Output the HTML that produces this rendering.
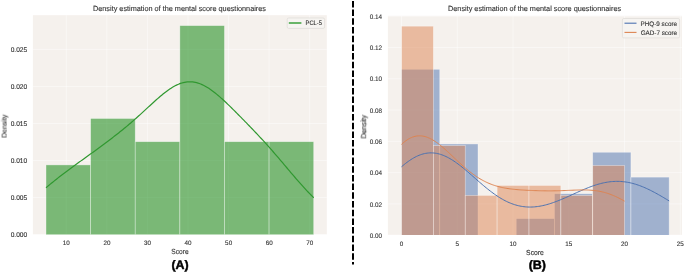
<!DOCTYPE html>
<html><head><meta charset="utf-8"><style>
html,body{margin:0;padding:0;background:#fff;}
svg{display:block;font-family:"Liberation Sans", sans-serif;}
text{will-change:transform;text-rendering:geometricPrecision;}
</style></head><body>
<svg width="685" height="273" viewBox="0 0 685 273">
<defs><clipPath id="cl"><rect x="32.9" y="15.2" width="293.90" height="219.30"/></clipPath><clipPath id="cr"><rect x="387.9" y="15.8" width="294.10" height="219.10"/></clipPath></defs><rect x="32.9" y="15.2" width="293.90" height="219.30" fill="#f5f1ed"/>
<line x1="66.27" y1="15.2" x2="66.27" y2="234.5" stroke="#fff" stroke-opacity="0.45" stroke-width="1"/>
<line x1="106.83" y1="15.2" x2="106.83" y2="234.5" stroke="#fff" stroke-opacity="0.45" stroke-width="1"/>
<line x1="147.40" y1="15.2" x2="147.40" y2="234.5" stroke="#fff" stroke-opacity="0.45" stroke-width="1"/>
<line x1="187.96" y1="15.2" x2="187.96" y2="234.5" stroke="#fff" stroke-opacity="0.45" stroke-width="1"/>
<line x1="228.53" y1="15.2" x2="228.53" y2="234.5" stroke="#fff" stroke-opacity="0.45" stroke-width="1"/>
<line x1="269.09" y1="15.2" x2="269.09" y2="234.5" stroke="#fff" stroke-opacity="0.45" stroke-width="1"/>
<line x1="309.66" y1="15.2" x2="309.66" y2="234.5" stroke="#fff" stroke-opacity="0.45" stroke-width="1"/>
<line x1="32.9" y1="234.55" x2="326.8" y2="234.55" stroke="#fff" stroke-opacity="0.45" stroke-width="1"/>
<line x1="32.9" y1="197.52" x2="326.8" y2="197.52" stroke="#fff" stroke-opacity="0.45" stroke-width="1"/>
<line x1="32.9" y1="160.49" x2="326.8" y2="160.49" stroke="#fff" stroke-opacity="0.45" stroke-width="1"/>
<line x1="32.9" y1="123.46" x2="326.8" y2="123.46" stroke="#fff" stroke-opacity="0.45" stroke-width="1"/>
<line x1="32.9" y1="86.43" x2="326.8" y2="86.43" stroke="#fff" stroke-opacity="0.45" stroke-width="1"/>
<line x1="32.9" y1="49.39" x2="326.8" y2="49.39" stroke="#fff" stroke-opacity="0.45" stroke-width="1"/>
<g clip-path="url(#cl)">
<rect x="45.99" y="164.90" width="44.62" height="71.10" fill="green" fill-opacity="0.5" stroke="#fff" stroke-opacity="0.5" stroke-width="0.7"/>
<rect x="90.61" y="118.47" width="44.62" height="117.53" fill="green" fill-opacity="0.5" stroke="#fff" stroke-opacity="0.5" stroke-width="0.7"/>
<rect x="135.23" y="141.68" width="44.62" height="94.32" fill="green" fill-opacity="0.5" stroke="#fff" stroke-opacity="0.5" stroke-width="0.7"/>
<rect x="179.85" y="25.60" width="44.62" height="210.40" fill="green" fill-opacity="0.5" stroke="#fff" stroke-opacity="0.5" stroke-width="0.7"/>
<rect x="224.47" y="141.68" width="44.62" height="94.32" fill="green" fill-opacity="0.5" stroke="#fff" stroke-opacity="0.5" stroke-width="0.7"/>
<rect x="269.09" y="141.68" width="44.62" height="94.32" fill="green" fill-opacity="0.5" stroke="#fff" stroke-opacity="0.5" stroke-width="0.7"/>
<polyline points="45.99,187.73 47.33,186.61 48.68,185.49 50.02,184.38 51.37,183.28 52.71,182.19 54.06,181.10 55.40,180.02 56.75,178.96 58.09,177.90 59.44,176.84 60.79,175.80 62.13,174.76 63.48,173.73 64.82,172.71 66.17,171.70 67.51,170.69 68.86,169.69 70.20,168.69 71.55,167.70 72.89,166.72 74.24,165.74 75.58,164.76 76.93,163.78 78.28,162.81 79.62,161.84 80.97,160.87 82.31,159.90 83.66,158.93 85.00,157.97 86.35,157.00 87.69,156.03 89.04,155.06 90.38,154.09 91.73,153.12 93.07,152.15 94.42,151.17 95.76,150.19 97.11,149.21 98.46,148.23 99.80,147.24 101.15,146.25 102.49,145.25 103.84,144.26 105.18,143.25 106.53,142.24 107.87,141.23 109.22,140.21 110.56,139.19 111.91,138.16 113.25,137.13 114.60,136.08 115.95,135.03 117.29,133.98 118.64,132.91 119.98,131.84 121.33,130.76 122.67,129.67 124.02,128.57 125.36,127.46 126.71,126.34 128.05,125.21 129.40,124.07 130.74,122.92 132.09,121.76 133.43,120.59 134.78,119.41 136.13,118.22 137.47,117.02 138.82,115.81 140.16,114.59 141.51,113.37 142.85,112.14 144.20,110.90 145.54,109.66 146.89,108.42 148.23,107.18 149.58,105.94 150.92,104.70 152.27,103.46 153.62,102.24 154.96,101.02 156.31,99.81 157.65,98.62 159.00,97.45 160.34,96.30 161.69,95.17 163.03,94.06 164.38,92.99 165.72,91.95 167.07,90.94 168.41,89.97 169.76,89.04 171.11,88.16 172.45,87.32 173.80,86.53 175.14,85.80 176.49,85.12 177.83,84.49 179.18,83.93 180.52,83.43 181.87,82.99 183.21,82.62 184.56,82.32 185.90,82.08 187.25,81.91 188.59,81.81 189.94,81.78 191.29,81.82 192.63,81.93 193.98,82.11 195.32,82.36 196.67,82.67 198.01,83.06 199.36,83.50 200.70,84.02 202.05,84.59 203.39,85.22 204.74,85.92 206.08,86.66 207.43,87.47 208.78,88.32 210.12,89.22 211.47,90.16 212.81,91.15 214.16,92.18 215.50,93.25 216.85,94.35 218.19,95.48 219.54,96.64 220.88,97.83 222.23,99.04 223.57,100.27 224.92,101.53 226.27,102.80 227.61,104.08 228.96,105.38 230.30,106.69 231.65,108.01 232.99,109.34 234.34,110.68 235.68,112.02 237.03,113.37 238.37,114.73 239.72,116.09 241.06,117.45 242.41,118.82 243.75,120.19 245.10,121.56 246.45,122.94 247.79,124.33 249.14,125.71 250.48,127.11 251.83,128.51 253.17,129.91 254.52,131.32 255.86,132.74 257.21,134.17 258.55,135.60 259.90,137.05 261.24,138.50 262.59,139.96 263.94,141.43 265.28,142.91 266.63,144.40 267.97,145.90 269.32,147.41 270.66,148.93 272.01,150.46 273.35,152.00 274.70,153.54 276.04,155.10 277.39,156.66 278.73,158.23 280.08,159.81 281.42,161.39 282.77,162.98 284.12,164.57 285.46,166.16 286.81,167.75 288.15,169.34 289.50,170.93 290.84,172.52 292.19,174.10 293.53,175.68 294.88,177.25 296.22,178.81 297.57,180.36 298.91,181.90 300.26,183.42 301.61,184.94 302.95,186.44 304.30,187.92 305.64,189.38 306.99,190.83 308.33,192.26 309.68,193.66 311.02,195.04 312.37,196.41 313.71,197.74" fill="none" stroke="#309830" stroke-width="1.2" stroke-linejoin="round" stroke-linecap="butt"/>
</g>
<rect x="387.9" y="15.8" width="294.10" height="219.10" fill="#f5f1ed"/>
<line x1="401.53" y1="15.8" x2="401.53" y2="234.9" stroke="#fff" stroke-opacity="0.45" stroke-width="1"/>
<line x1="457.29" y1="15.8" x2="457.29" y2="234.9" stroke="#fff" stroke-opacity="0.45" stroke-width="1"/>
<line x1="513.05" y1="15.8" x2="513.05" y2="234.9" stroke="#fff" stroke-opacity="0.45" stroke-width="1"/>
<line x1="568.80" y1="15.8" x2="568.80" y2="234.9" stroke="#fff" stroke-opacity="0.45" stroke-width="1"/>
<line x1="624.56" y1="15.8" x2="624.56" y2="234.9" stroke="#fff" stroke-opacity="0.45" stroke-width="1"/>
<line x1="680.32" y1="15.8" x2="680.32" y2="234.9" stroke="#fff" stroke-opacity="0.45" stroke-width="1"/>
<line x1="387.9" y1="235.20" x2="682.0" y2="235.20" stroke="#fff" stroke-opacity="0.45" stroke-width="1"/>
<line x1="387.9" y1="203.91" x2="682.0" y2="203.91" stroke="#fff" stroke-opacity="0.45" stroke-width="1"/>
<line x1="387.9" y1="172.63" x2="682.0" y2="172.63" stroke="#fff" stroke-opacity="0.45" stroke-width="1"/>
<line x1="387.9" y1="141.34" x2="682.0" y2="141.34" stroke="#fff" stroke-opacity="0.45" stroke-width="1"/>
<line x1="387.9" y1="110.06" x2="682.0" y2="110.06" stroke="#fff" stroke-opacity="0.45" stroke-width="1"/>
<line x1="387.9" y1="78.77" x2="682.0" y2="78.77" stroke="#fff" stroke-opacity="0.45" stroke-width="1"/>
<line x1="387.9" y1="47.48" x2="682.0" y2="47.48" stroke="#fff" stroke-opacity="0.45" stroke-width="1"/>
<line x1="387.9" y1="16.20" x2="682.0" y2="16.20" stroke="#fff" stroke-opacity="0.45" stroke-width="1"/>
<g clip-path="url(#cr)">
<rect x="401.53" y="69.29" width="38.23" height="167.11" fill="#4c72b0" fill-opacity="0.5" stroke="#fff" stroke-opacity="0.5" stroke-width="0.7"/>
<rect x="439.77" y="143.95" width="38.23" height="92.45" fill="#4c72b0" fill-opacity="0.5" stroke="#fff" stroke-opacity="0.5" stroke-width="0.7"/>
<rect x="516.23" y="218.61" width="38.23" height="17.79" fill="#4c72b0" fill-opacity="0.5" stroke="#fff" stroke-opacity="0.5" stroke-width="0.7"/>
<rect x="554.47" y="193.72" width="38.23" height="42.68" fill="#4c72b0" fill-opacity="0.5" stroke="#fff" stroke-opacity="0.5" stroke-width="0.7"/>
<rect x="592.70" y="152.24" width="38.23" height="84.16" fill="#4c72b0" fill-opacity="0.5" stroke="#fff" stroke-opacity="0.5" stroke-width="0.7"/>
<rect x="630.93" y="177.13" width="38.23" height="59.27" fill="#4c72b0" fill-opacity="0.5" stroke="#fff" stroke-opacity="0.5" stroke-width="0.7"/>
<rect x="401.53" y="26.15" width="31.86" height="210.25" fill="#dd8452" fill-opacity="0.5" stroke="#fff" stroke-opacity="0.5" stroke-width="0.7"/>
<rect x="433.39" y="145.61" width="31.86" height="90.79" fill="#dd8452" fill-opacity="0.5" stroke="#fff" stroke-opacity="0.5" stroke-width="0.7"/>
<rect x="465.25" y="195.38" width="31.86" height="41.02" fill="#dd8452" fill-opacity="0.5" stroke="#fff" stroke-opacity="0.5" stroke-width="0.7"/>
<rect x="497.12" y="185.43" width="31.86" height="50.97" fill="#dd8452" fill-opacity="0.5" stroke="#fff" stroke-opacity="0.5" stroke-width="0.7"/>
<rect x="528.98" y="185.43" width="31.86" height="50.97" fill="#dd8452" fill-opacity="0.5" stroke="#fff" stroke-opacity="0.5" stroke-width="0.7"/>
<rect x="560.84" y="195.38" width="31.86" height="41.02" fill="#dd8452" fill-opacity="0.5" stroke="#fff" stroke-opacity="0.5" stroke-width="0.7"/>
<rect x="592.70" y="165.52" width="31.86" height="70.88" fill="#dd8452" fill-opacity="0.5" stroke="#fff" stroke-opacity="0.5" stroke-width="0.7"/>
<polyline points="401.53,166.79 402.88,165.64 404.22,164.52 405.57,163.45 406.91,162.41 408.26,161.43 409.60,160.48 410.95,159.59 412.29,158.74 413.64,157.95 414.98,157.21 416.33,156.52 417.67,155.89 419.02,155.32 420.36,154.80 421.71,154.35 423.05,153.95 424.40,153.62 425.74,153.35 427.09,153.14 428.43,152.99 429.77,152.90 431.12,152.87 432.46,152.91 433.81,153.01 435.15,153.16 436.50,153.38 437.84,153.66 439.19,153.99 440.53,154.39 441.88,154.84 443.22,155.34 444.57,155.90 445.91,156.50 447.26,157.16 448.60,157.87 449.95,158.62 451.29,159.42 452.64,160.25 453.98,161.13 455.33,162.05 456.67,163.00 458.02,163.98 459.36,165.00 460.71,166.04 462.05,167.11 463.40,168.20 464.74,169.31 466.09,170.44 467.43,171.59 468.78,172.74 470.12,173.91 471.47,175.09 472.81,176.27 474.16,177.46 475.50,178.64 476.85,179.83 478.19,181.00 479.54,182.18 480.88,183.34 482.23,184.49 483.57,185.63 484.92,186.76 486.26,187.87 487.61,188.96 488.95,190.02 490.30,191.07 491.64,192.09 492.99,193.09 494.33,194.06 495.68,195.00 497.02,195.91 498.37,196.79 499.71,197.64 501.05,198.45 502.40,199.23 503.74,199.98 505.09,200.69 506.43,201.36 507.78,202.00 509.12,202.60 510.47,203.16 511.81,203.69 513.16,204.17 514.50,204.62 515.85,205.03 517.19,205.40 518.54,205.74 519.88,206.03 521.23,206.29 522.57,206.51 523.92,206.69 525.26,206.84 526.61,206.95 527.95,207.02 529.30,207.05 530.64,207.06 531.99,207.02 533.33,206.96 534.68,206.86 536.02,206.73 537.37,206.56 538.71,206.37 540.06,206.15 541.40,205.89 542.75,205.61 544.09,205.31 545.44,204.97 546.78,204.62 548.13,204.23 549.47,203.83 550.82,203.40 552.16,202.96 553.51,202.49 554.85,202.00 556.20,201.50 557.54,200.98 558.89,200.45 560.23,199.90 561.58,199.35 562.92,198.78 564.27,198.20 565.61,197.61 566.96,197.01 568.30,196.41 569.65,195.80 570.99,195.20 572.33,194.58 573.68,193.97 575.02,193.36 576.37,192.75 577.71,192.15 579.06,191.54 580.40,190.95 581.75,190.36 583.09,189.78 584.44,189.21 585.78,188.65 587.13,188.11 588.47,187.57 589.82,187.06 591.16,186.55 592.51,186.07 593.85,185.60 595.20,185.15 596.54,184.73 597.89,184.32 599.23,183.94 600.58,183.58 601.92,183.24 603.27,182.93 604.61,182.65 605.96,182.39 607.30,182.16 608.65,181.96 609.99,181.78 611.34,181.64 612.68,181.52 614.03,181.44 615.37,181.38 616.72,181.36 618.06,181.36 619.41,181.40 620.75,181.47 622.10,181.57 623.44,181.70 624.79,181.86 626.13,182.05 627.48,182.27 628.82,182.53 630.17,182.81 631.51,183.12 632.86,183.46 634.20,183.83 635.55,184.23 636.89,184.66 638.24,185.11 639.58,185.59 640.93,186.10 642.27,186.63 643.61,187.18 644.96,187.76 646.30,188.36 647.65,188.97 648.99,189.62 650.34,190.27 651.68,190.95 653.03,191.65 654.37,192.36 655.72,193.08 657.06,193.82 658.41,194.58 659.75,195.34 661.10,196.12 662.44,196.90 663.79,197.70 665.13,198.50 666.48,199.30 667.82,200.12 669.17,200.93" fill="none" stroke="#4c72b0" stroke-width="1.0" stroke-linejoin="round" stroke-linecap="butt"/>
<polyline points="401.53,144.37 402.65,143.35 403.77,142.39 404.89,141.49 406.01,140.66 407.14,139.89 408.26,139.18 409.38,138.54 410.50,137.97 411.62,137.47 412.74,137.03 413.86,136.66 414.98,136.36 416.10,136.12 417.22,135.95 418.34,135.85 419.46,135.82 420.58,135.85 421.71,135.94 422.83,136.09 423.95,136.31 425.07,136.58 426.19,136.92 427.31,137.31 428.43,137.75 429.55,138.25 430.67,138.80 431.79,139.39 432.91,140.04 434.03,140.72 435.15,141.45 436.28,142.22 437.40,143.02 438.52,143.86 439.64,144.73 440.76,145.63 441.88,146.56 443.00,147.51 444.12,148.48 445.24,149.47 446.36,150.48 447.48,151.50 448.60,152.54 449.72,153.59 450.85,154.64 451.97,155.70 453.09,156.76 454.21,157.82 455.33,158.88 456.45,159.94 457.57,160.99 458.69,162.03 459.81,163.07 460.93,164.10 462.05,165.11 463.17,166.11 464.29,167.10 465.41,168.07 466.54,169.02 467.66,169.96 468.78,170.87 469.90,171.76 471.02,172.64 472.14,173.49 473.26,174.32 474.38,175.12 475.50,175.90 476.62,176.66 477.74,177.39 478.86,178.10 479.98,178.78 481.11,179.44 482.23,180.07 483.35,180.68 484.47,181.27 485.59,181.82 486.71,182.36 487.83,182.87 488.95,183.36 490.07,183.82 491.19,184.26 492.31,184.68 493.43,185.08 494.55,185.45 495.68,185.81 496.80,186.14 497.92,186.46 499.04,186.76 500.16,187.04 501.28,187.30 502.40,187.55 503.52,187.78 504.64,188.00 505.76,188.20 506.88,188.39 508.00,188.57 509.12,188.73 510.25,188.88 511.37,189.03 512.49,189.16 513.61,189.29 514.73,189.40 515.85,189.51 516.97,189.61 518.09,189.71 519.21,189.80 520.33,189.88 521.45,189.96 522.57,190.03 523.69,190.10 524.81,190.17 525.94,190.23 527.06,190.28 528.18,190.34 529.30,190.39 530.42,190.44 531.54,190.48 532.66,190.53 533.78,190.57 534.90,190.61 536.02,190.64 537.14,190.68 538.26,190.71 539.38,190.74 540.51,190.76 541.63,190.79 542.75,190.81 543.87,190.82 544.99,190.84 546.11,190.85 547.23,190.86 548.35,190.86 549.47,190.86 550.59,190.86 551.71,190.86 552.83,190.85 553.95,190.84 555.08,190.82 556.20,190.80 557.32,190.78 558.44,190.75 559.56,190.72 560.68,190.69 561.80,190.65 562.92,190.62 564.04,190.57 565.16,190.53 566.28,190.49 567.40,190.44 568.52,190.39 569.65,190.34 570.77,190.29 571.89,190.25 573.01,190.20 574.13,190.15 575.25,190.11 576.37,190.07 577.49,190.04 578.61,190.01 579.73,189.98 580.85,189.96 581.97,189.95 583.09,189.94 584.21,189.95 585.34,189.96 586.46,189.99 587.58,190.02 588.70,190.07 589.82,190.13 590.94,190.20 592.06,190.29 593.18,190.40 594.30,190.52 595.42,190.65 596.54,190.81 597.66,190.98 598.78,191.17 599.91,191.38 601.03,191.61 602.15,191.86 603.27,192.13 604.39,192.42 605.51,192.73 606.63,193.07 607.75,193.42 608.87,193.80 609.99,194.19 611.11,194.61 612.23,195.05 613.35,195.51 614.48,195.99 615.60,196.49 616.72,197.01 617.84,197.54 618.96,198.10 620.08,198.67 621.20,199.26 622.32,199.87 623.44,200.49 624.56,201.13" fill="none" stroke="#dd8452" stroke-width="1.0" stroke-linejoin="round" stroke-linecap="butt"/>
</g>
<text transform="translate(62.75 245.00) scale(0.9700 1)" font-size="6.500" fill="#333" stroke="#333" stroke-width="0.12">10</text>
<text transform="translate(103.39 245.00) scale(0.9700 1)" font-size="6.500" fill="#333" stroke="#333" stroke-width="0.12">20</text>
<text transform="translate(144.00 245.00) scale(0.9700 1)" font-size="6.500" fill="#333" stroke="#333" stroke-width="0.12">30</text>
<text transform="translate(184.61 245.00) scale(0.9700 1)" font-size="6.500" fill="#333" stroke="#333" stroke-width="0.12">40</text>
<text transform="translate(225.12 245.00) scale(0.9700 1)" font-size="6.500" fill="#333" stroke="#333" stroke-width="0.12">50</text>
<text transform="translate(265.65 245.00) scale(0.9700 1)" font-size="6.500" fill="#333" stroke="#333" stroke-width="0.12">60</text>
<text transform="translate(306.22 245.00) scale(0.9700 1)" font-size="6.500" fill="#333" stroke="#333" stroke-width="0.12">70</text>
<text transform="translate(10.64 236.95) scale(0.9700 1)" font-size="6.800" fill="#333" stroke="#333" stroke-width="0.12">0.000</text>
<text transform="translate(10.66 199.92) scale(0.9700 1)" font-size="6.800" fill="#333" stroke="#333" stroke-width="0.12">0.005</text>
<text transform="translate(10.64 162.89) scale(0.9700 1)" font-size="6.800" fill="#333" stroke="#333" stroke-width="0.12">0.010</text>
<text transform="translate(10.66 125.86) scale(0.9700 1)" font-size="6.800" fill="#333" stroke="#333" stroke-width="0.12">0.015</text>
<text transform="translate(10.64 88.83) scale(0.9700 1)" font-size="6.800" fill="#333" stroke="#333" stroke-width="0.12">0.020</text>
<text transform="translate(10.66 51.79) scale(0.9700 1)" font-size="6.800" fill="#333" stroke="#333" stroke-width="0.12">0.025</text>
<text transform="translate(399.77 245.80) scale(0.9700 1)" font-size="6.500" fill="#333" stroke="#333" stroke-width="0.12">0</text>
<text transform="translate(455.54 245.80) scale(0.9700 1)" font-size="6.500" fill="#333" stroke="#333" stroke-width="0.12">5</text>
<text transform="translate(509.43 245.80) scale(0.9700 1)" font-size="6.500" fill="#333" stroke="#333" stroke-width="0.12">10</text>
<text transform="translate(565.19 245.80) scale(0.9700 1)" font-size="6.500" fill="#333" stroke="#333" stroke-width="0.12">15</text>
<text transform="translate(621.02 245.80) scale(0.9700 1)" font-size="6.500" fill="#333" stroke="#333" stroke-width="0.12">20</text>
<text transform="translate(676.79 245.80) scale(0.9700 1)" font-size="6.500" fill="#333" stroke="#333" stroke-width="0.12">25</text>
<text transform="translate(369.71 237.85) scale(0.9600 1)" font-size="6.600" fill="#333" stroke="#333" stroke-width="0.12">0.00</text>
<text transform="translate(369.79 206.56) scale(0.9600 1)" font-size="6.600" fill="#333" stroke="#333" stroke-width="0.12">0.02</text>
<text transform="translate(369.65 175.28) scale(0.9600 1)" font-size="6.600" fill="#333" stroke="#333" stroke-width="0.12">0.04</text>
<text transform="translate(369.75 143.99) scale(0.9600 1)" font-size="6.600" fill="#333" stroke="#333" stroke-width="0.12">0.06</text>
<text transform="translate(369.75 112.71) scale(0.9600 1)" font-size="6.600" fill="#333" stroke="#333" stroke-width="0.12">0.08</text>
<text transform="translate(369.71 81.42) scale(0.9600 1)" font-size="6.600" fill="#333" stroke="#333" stroke-width="0.12">0.10</text>
<text transform="translate(369.79 50.13) scale(0.9600 1)" font-size="6.600" fill="#333" stroke="#333" stroke-width="0.12">0.12</text>
<text transform="translate(369.65 18.85) scale(0.9600 1)" font-size="6.600" fill="#333" stroke="#333" stroke-width="0.12">0.14</text>
<text transform="translate(93.00 11.30) scale(0.9717 1)" font-size="7.503" fill="#333" stroke="#333" stroke-width="0.12">Density estimation of the mental score questionnaires</text>
<text transform="translate(448.00 11.30) scale(0.9723 1)" font-size="7.503" fill="#333" stroke="#333" stroke-width="0.12">Density estimation of the mental score questionnaires</text>
<text transform="translate(171.30 254.10) scale(0.8880 1)" font-size="7.455" fill="#333" stroke="#333" stroke-width="0.12">Score</text>
<text transform="translate(526.09 254.50) scale(0.9325 1)" font-size="7.312" fill="#333" stroke="#333" stroke-width="0.12">Score</text>
<text transform="translate(6.60 137.78) rotate(-90) scale(0.9973 1)" font-size="7.034" fill="#333" stroke="#333" stroke-width="0.12">Density</text>
<text transform="translate(366.20 138.59) rotate(-90) scale(0.9543 1)" font-size="7.448" fill="#333" stroke="#333" stroke-width="0.12">Density</text>
<rect x="287.2" y="18.0" width="37.4" height="10.4" rx="1.5" fill="#f6f4f1" stroke="#dedbd7" stroke-width="0.7"/>
<line x1="288.8" y1="23" x2="301.4" y2="23" stroke="#5aae5a" stroke-width="1.8"/>
<text transform="translate(305.52 24.70) scale(0.8980 1)" font-size="6.452" fill="#333" stroke="#333" stroke-width="0.12">PCL-5</text>
<rect x="622.4" y="18.5" width="57.2" height="19.4" rx="1.5" fill="#f6f4f1" stroke="#dedbd7" stroke-width="0.7"/>
<line x1="624.5" y1="23.2" x2="636.5" y2="23.2" stroke="#4c72b0" stroke-width="1.1"/>
<line x1="624.5" y1="32.4" x2="636.5" y2="32.4" stroke="#dd8452" stroke-width="1.1"/>
<text transform="translate(640.48 25.60) scale(0.9630 1)" font-size="6.595" fill="#333" stroke="#333" stroke-width="0.12">PHQ-9 score</text>
<text transform="translate(640.68 34.80) scale(0.9575 1)" font-size="6.595" fill="#333" stroke="#333" stroke-width="0.12">GAD-7 score</text>
<text transform="translate(171.48 269.40) scale(1.0123 1)" font-size="12.276" font-weight="bold" fill="#000" stroke="#000" stroke-width="0.45">(A)</text>
<text transform="translate(528.67 269.30) scale(1.0187 1)" font-size="12.276" font-weight="bold" fill="#000" stroke="#000" stroke-width="0.45">(B)</text>
<line x1="353" y1="0.9" x2="353" y2="264.5" stroke="#000" stroke-width="2" stroke-dasharray="6.5 2.2"/>
</svg>
</body></html>
